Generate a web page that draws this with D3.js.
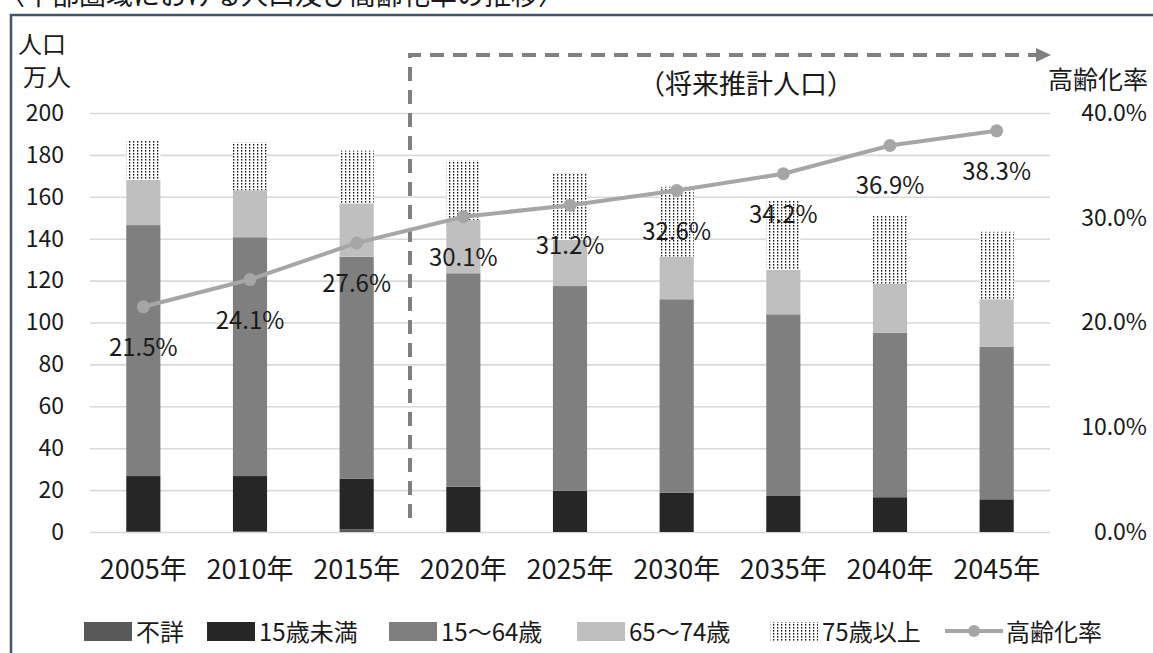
<!DOCTYPE html>
<html lang="ja">
<head>
<meta charset="utf-8">
<script src="https://cdn.jsdelivr.net/npm/d3@7"></script>
<style>
  html, body { margin: 0; padding: 0; background: #fff; }
  svg { display: block; font-family: "Noto Sans CJK JP", "Noto Sans", sans-serif; }
</style>
</head>
<body>
<svg id="chart" width="1153" height="653"></svg>
<script>
// Population by age group (10,000 persons) and ageing rate (%)
const years    = ["2005年", "2010年", "2015年", "2020年", "2025年", "2030年", "2035年", "2040年", "2045年"];
const unknown  = [0.2, 0.3, 1.2, 0, 0, 0, 0, 0, 0];          // 不詳
const under15  = [26.5, 26.4, 24.3, 21.6, 19.7, 18.8, 17.2, 16.6, 15.6];   // 15歳未満
const age15_64 = [119.8, 114.0, 105.9, 101.9, 97.7, 92.3, 86.7, 78.5, 72.9]; // 15～64歳
const age65_74 = [21.5, 22.5, 25.5, 25.4, 22.0, 20.3, 21.2, 23.3, 22.6];   // 65～74歳
const age75up  = [19.1, 22.7, 25.1, 28.3, 32.1, 33.4, 33.4, 32.4, 32.2];   // 75歳以上
const agingRate = [21.5, 24.1, 27.6, 30.1, 31.2, 32.6, 34.2, 36.9, 38.3];  // 高齢化率
const leftTicks  = [0, 20, 40, 60, 80, 100, 120, 140, 160, 180, 200];
const rightTicks = [0, 10, 20, 30, 40];
const seriesNames = ["不詳", "15歳未満", "15～64歳", "65～74歳", "75歳以上"];

const svg = d3.select("#chart");
const textColor = "#1a1a1a";
const plot = { left: 90, right: 1050, top: 113, bottom: 532 };

// Pattern for the 75+ segment
const defs = svg.append("defs");
const pat = defs.append("pattern")
  .attr("id", "dots").attr("patternUnits", "userSpaceOnUse")
  .attr("width", 4).attr("height", 3);
pat.append("rect").attr("width", 4).attr("height", 3).attr("fill", "#fff");
pat.append("rect").attr("x", 1).attr("y", 0).attr("width", 1.3).attr("height", 1.6).attr("fill", "#1a1a1a");

const fills = ["#595959", "#262626", "#7f7f7f", "#bfbfbf", "url(#dots)"];

// Heading (partially above the frame)
svg.append("text")
  .attr("x", -2).attr("y", 5)
  .attr("font-size", 27).attr("fill", textColor)
  .text("〈中部圏域における人口及び高齢化率の推移〉");

// Frame
svg.append("path")
  .attr("d", "M11,660 L11,15 L1160,15")
  .attr("fill", "none").attr("stroke", "#46546a").attr("stroke-width", 2.5);

// Scales
const x = d3.scaleBand().domain(years).range([plot.left, plot.right])
  .paddingInner(0.68).paddingOuter(0.34);
const y = d3.scaleLinear().domain([0, 200]).range([plot.bottom, plot.top]);
const yR = d3.scaleLinear().domain([0, 40]).range([plot.bottom, plot.top]);

// Gridlines
const grid = svg.append("g").attr("transform", `translate(${plot.left},0)`)
  .call(d3.axisLeft(y).tickValues(leftTicks).tickSize(-(plot.right - plot.left)).tickFormat(""));
grid.select(".domain").remove();
grid.selectAll(".tick line").attr("stroke", "#d9d9d9").attr("stroke-width", 1.6);

// Left axis labels
const yAxis = svg.append("g").attr("transform", "translate(64,0)")
  .call(d3.axisLeft(y).tickValues(leftTicks).tickSize(0).tickPadding(0));
yAxis.select(".domain").remove();
yAxis.selectAll("text").attr("font-size", 23).attr("fill", textColor)
  .attr("font-family", "'Noto Sans CJK JP', sans-serif");

// Right axis labels
const rAxis = svg.append("g").attr("transform", "translate(1147,0)")
  .call(d3.axisLeft(yR).tickValues(rightTicks).tickSize(0).tickPadding(0).tickFormat(d => d3.format(".1f")(d) + "%"));
rAxis.select(".domain").remove();
rAxis.selectAll("text").attr("font-size", 23).attr("fill", textColor)
  .attr("font-family", "'Noto Sans CJK JP', sans-serif");

// Axis titles
svg.append("text").attr("x", 18).attr("y", 53).attr("font-size", 24).attr("fill", textColor).text("人口");
svg.append("text").attr("x", 23).attr("y", 86).attr("font-size", 24).attr("fill", textColor).text("万人");
svg.append("text").attr("x", 1148).attr("y", 89).attr("text-anchor", "end")
  .attr("font-size", 25).attr("fill", textColor).text("高齢化率");

// Stacked bars
const table = years.map((yr, i) => ({
  year: yr, s0: unknown[i], s1: under15[i], s2: age15_64[i], s3: age65_74[i], s4: age75up[i]
}));
const stack = d3.stack().keys(["s0", "s1", "s2", "s3", "s4"])(table);
svg.append("g").selectAll("g").data(stack).join("g")
  .attr("fill", (d, i) => fills[i])
  .selectAll("rect").data(d => d).join("rect")
  .attr("x", d => x(d.data.year))
  .attr("width", x.bandwidth())
  .attr("y", d => y(d[1]))
  .attr("height", d => Math.max(0, y(d[0]) - y(d[1])));

// X labels
const xAxis = svg.append("g").attr("transform", "translate(0,579)")
  .call(d3.axisBottom(x).tickSize(0).tickPadding(0));
xAxis.select(".domain").remove();
xAxis.selectAll("text").attr("font-size", 27).attr("fill", textColor)
  .attr("font-family", "'Noto Sans CJK JP', sans-serif").attr("dy", "0");

// Projection bracket: dashed line with arrow
const splitX = x.step() * 3 + plot.left;
svg.append("path")
  .attr("d", `M${splitX},518 L${splitX},55 L1036,55`)
  .attr("fill", "none").attr("stroke", "#808080").attr("stroke-width", 4)
  .attr("stroke-dasharray", "14,9");
svg.append("path")
  .attr("d", "M1036,48 L1051,55 L1036,62 Z").attr("fill", "#808080");
svg.append("text").attr("x", 746).attr("y", 94).attr("text-anchor", "middle")
  .attr("font-size", 27).attr("fill", textColor).text("（将来推計人口）");

// Ageing-rate line
const cx = d => x(d) + x.bandwidth() / 2;
const pts = years.map((yr, i) => [cx(yr), yR(agingRate[i])]);
svg.append("path").attr("d", d3.line()(pts))
  .attr("fill", "none").attr("stroke", "#a6a6a6").attr("stroke-width", 4);
svg.append("g").selectAll("circle").data(pts).join("circle")
  .attr("cx", d => d[0]).attr("cy", d => d[1]).attr("r", 6.5).attr("fill", "#a6a6a6");
svg.append("g").selectAll("text").data(years).join("text")
  .attr("x", d => cx(d))
  .attr("y", (d, i) => yR(agingRate[i]) + 49)
  .attr("text-anchor", "middle").attr("font-size", 24).attr("fill", textColor)
  .text((d, i) => d3.format(".1f")(agingRate[i]) + "%");

// Legend
const legend = svg.append("g");
const legendX = [84, 207, 389, 577, 770];
seriesNames.forEach((name, i) => {
  legend.append("rect").attr("x", legendX[i]).attr("y", 622).attr("width", 48).attr("height", 19)
    .attr("fill", fills[i]);
  legend.append("text").attr("x", legendX[i] + 52).attr("y", 641)
    .attr("font-size", 24).attr("fill", textColor).text(name);
});
legend.append("line").attr("x1", 945).attr("x2", 1003).attr("y1", 631).attr("y2", 631)
  .attr("stroke", "#a6a6a6").attr("stroke-width", 4);
legend.append("circle").attr("cx", 974).attr("cy", 631).attr("r", 6).attr("fill", "#a6a6a6");
legend.append("text").attr("x", 1006).attr("y", 641)
  .attr("font-size", 24).attr("fill", textColor).text("高齢化率");
</script>
</body>
</html>
